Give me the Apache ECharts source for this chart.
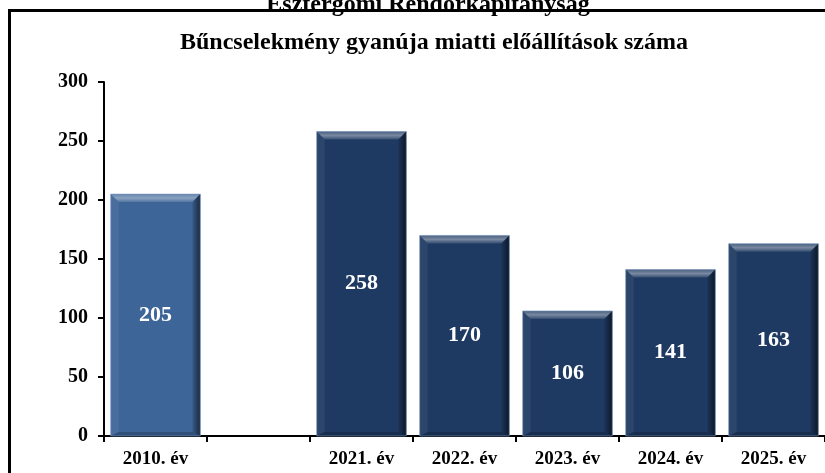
<!DOCTYPE html>
<html>
<head>
<meta charset="utf-8">
<script src="https://cdn.jsdelivr.net/npm/echarts@6/dist/echarts.min.js"></script>
<style>
  html, body { margin: 0; padding: 0; background: #fff; }
  #main { width: 825px; height: 473px; }
</style>
</head>
<body>
<div id="main"></div>
<script>
var categories = ['2010. év', '', '2021. év', '2022. év', '2023. év', '2024. év', '2025. év'];
var values = [205, null, 258, 170, 106, 141, 163];
var yTicks = [0, 50, 100, 150, 200, 250, 300];

var lightBlue = '#3e6598';
var darkBlue = '#1f3a62';
var serif = '"Liberation Serif", "DejaVu Serif", serif';

var myChart = echarts.init(document.getElementById('main'));

// bevel edges drawn on top of each bar
function bevel(params, api) {
  var v = api.value(1);
  if (v == null || isNaN(v)) return;
  var base = api.coord([api.value(0), 0]);
  var top = api.coord([api.value(0), v]);
  var w = api.size([1, 0])[0] * 0.87;
  var l = top[0] - w / 2, r = top[0] + w / 2;
  var t = top[1], b = base[1];
  var e = 8;
  return {
    type: 'group',
    children: [
      { type: 'polygon', shape: { points: [[l, t], [r, t], [r - e, t + e], [l + e, t + e]] },
        style: { fill: { type: 'linear', x: 0, y: 0, x2: 0, y2: 1,
          colorStops: [{ offset: 0, color: 'rgba(255,255,255,0.2)' }, { offset: 0.5, color: 'rgba(255,255,255,0.4)' }, { offset: 1, color: 'rgba(255,255,255,0.1)' }] } } },
      { type: 'polygon', shape: { points: [[r, t], [r, b], [r - e, b - 4], [r - e, t + e]] },
        style: { fill: { type: 'linear', x: 0, y: 0, x2: 1, y2: 0,
          colorStops: [{ offset: 0, color: 'rgba(0,0,0,0.1)' }, { offset: 1, color: 'rgba(0,0,0,0.6)' }] } } },
      { type: 'polygon', shape: { points: [[l, t], [l + e, t + e], [l + e, b - 4], [l, b]] },
        style: { fill: 'rgba(255,255,255,0.06)' } },
      { type: 'polygon', shape: { points: [[l, b], [l + e, b - 4], [r - e, b - 4], [r, b]] },
        style: { fill: 'rgba(0,0,0,0.2)' } },
      { type: 'rect', shape: { x: l, y: t, width: w, height: b - t },
        style: { fill: 'none', stroke: 'rgba(120,150,190,0.6)', lineWidth: 1 } }
    ]
  };
}

var option = {
  backgroundColor: '#fff',
  animation: false,
  title: [
    { text: 'Esztergomi Rendőrkapitányság', left: 423, textAlign: 'center', top: -12,
      textStyle: { fontFamily: serif, fontWeight: 'bold', fontSize: 24, color: '#000' } },
    { text: 'Bűncselekmény gyanúja miatti előállítások száma', left: 429, textAlign: 'center', top: 26,
      textStyle: { fontFamily: serif, fontWeight: 'bold', fontSize: 24, color: '#000' } }
  ],
  graphic: [
    { type: 'rect', shape: { x: 9.5, y: 10.5, width: 830, height: 480 },
      style: { fill: 'none', stroke: '#000', lineWidth: 3 }, z: 100 }
  ],
  grid: { left: 104, right: -6, top: 82, bottom: 37 },
  xAxis: {
    type: 'category',
    data: categories,
    axisLine: { lineStyle: { color: '#000', width: 2 } },
    axisTick: { show: true, length: 6, lineStyle: { color: '#000', width: 2 } },
    axisLabel: { fontFamily: serif, fontWeight: 'bold', fontSize: 19, color: '#000', margin: 14, interval: 0 }
  },
  yAxis: {
    type: 'value',
    min: 0, max: 300, interval: 50,
    splitLine: { show: false },
    axisLine: { show: true, lineStyle: { color: '#000', width: 2 } },
    axisTick: { show: true, length: 6, lineStyle: { color: '#000', width: 2 } },
    axisLabel: { fontFamily: serif, fontWeight: 'bold', fontSize: 20, color: '#000', margin: 16,
      formatter: function (v) { return yTicks.indexOf(v) >= 0 ? String(v) : ''; } }
  },
  series: [
    {
      type: 'bar',
      barWidth: '87%',
      data: values.map(function (v, i) {
        return { value: v, itemStyle: { color: i === 0 ? lightBlue : darkBlue } };
      }),
      label: { show: true, position: 'inside', color: '#fff', fontFamily: serif,
        fontWeight: 'bold', fontSize: 22 }
    },
    {
      type: 'custom',
      renderItem: bevel,
      data: values.map(function (v, i) { return [i, v]; }),
      z: 3,
      silent: true
    }
  ]
};

myChart.setOption(option);
</script>
</body>
</html>
